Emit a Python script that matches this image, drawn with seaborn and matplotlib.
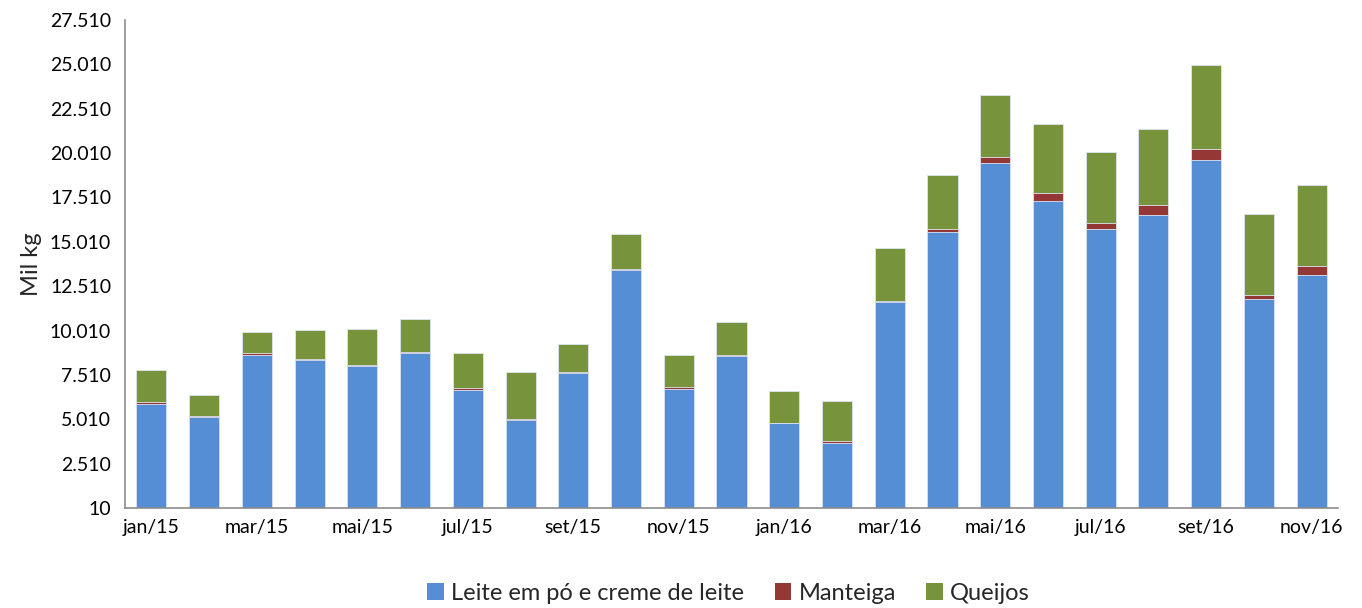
import matplotlib
matplotlib.use("Agg")
import matplotlib.pyplot as plt
from matplotlib.ticker import FuncFormatter, FixedLocator
from matplotlib.patches import Patch
import seaborn as sns
import pandas as pd
import numpy as np

months = ["jan/15", "fev/15", "mar/15", "abr/15", "mai/15", "jun/15",
          "jul/15", "ago/15", "set/15", "out/15", "nov/15", "dez/15",
          "jan/16", "fev/16", "mar/16", "abr/16", "mai/16", "jun/16",
          "jul/16", "ago/16", "set/16", "out/16", "nov/16"]

leite = [5887, 5155, 8632, 8333, 8012, 8727, 6676, 4952, 7617, 13438, 6733, 8592,
         4783, 3673, 11601, 15546, 19434, 17309, 15732, 16538, 19637, 11787, 13140]
manteiga = [70, 60, 110, 80, 40, 100, 70, 50, 50, 60, 70, 50,
            20, 130, 60, 203, 355, 435, 321, 529, 586, 243, 490]
queijos = [1846, 1163, 1169, 1627, 2062, 1850, 1998, 2672, 1567, 1952, 1829, 1849,
           1800, 2220, 2983, 3026, 3510, 3887, 4018, 4283, 4733, 4530, 4564]

series_names = ["Leite em pó e creme de leite", "Manteiga", "Queijos"]
colors = ["#558ED5", "#953735", "#77933C"]

yticks = [10, 2510, 5010, 7510, 10010, 12510, 15010, 17510, 20010, 22510, 25010, 27510]

df = pd.DataFrame({"mes": months, "leite": leite, "manteiga": manteiga, "queijos": queijos})
df["lvl1"] = df["leite"]
df["lvl2"] = df["leite"] + df["manteiga"]
df["lvl3"] = df["lvl2"] + df["queijos"]

sns.set_style("white")
plt.rcParams["font.family"] = ["Lato", "DejaVu Sans"]

fig = plt.figure(figsize=(13.62, 6.08), dpi=100)
ax = fig.add_axes([0.0918, 0.1645, 0.8906, 0.8025])

# cumulative layers drawn from the top down so each overlaps the one above
for col, color in zip(["lvl3", "lvl2", "lvl1"], colors[::-1]):
    sns.barplot(data=df, x="mes", y=col, color=color, width=0.57,
                edgecolor="#DDE6F2", linewidth=0.6, saturation=1, ax=ax)

ax.set_ylim(10, 27510)
ax.set_xlim(-0.5, len(months) - 0.5)
ax.yaxis.set_major_locator(FixedLocator(yticks))
ax.yaxis.set_major_formatter(FuncFormatter(lambda v, p: f"{int(round(v)):,}".replace(",", ".")))

xt = list(range(0, len(months), 2))
ax.set_xticks(xt)
ax.set_xticklabels([months[i] for i in xt])

ax.tick_params(axis="both", length=0, labelsize=14, colors="black")
ax.tick_params(axis="x", pad=8)
ax.tick_params(axis="y", pad=10)
ax.set_xlabel("")
ax.set_ylabel("Mil kg", fontsize=17, labelpad=6)

for side in ["top", "right"]:
    ax.spines[side].set_visible(False)
for side in ["left", "bottom"]:
    ax.spines[side].set_color("#8C8C8C")
    ax.spines[side].set_linewidth(1.2)

handles = [Patch(facecolor=c, edgecolor="none") for c in colors]
fig.legend(handles, series_names, loc="center", bbox_to_anchor=(0.535, 0.024),
           ncol=3, frameon=False, fontsize=17, handlelength=0.7, handleheight=0.7,
           handletextpad=0.3, columnspacing=1.3)

fig.savefig("out.png", dpi=100)
